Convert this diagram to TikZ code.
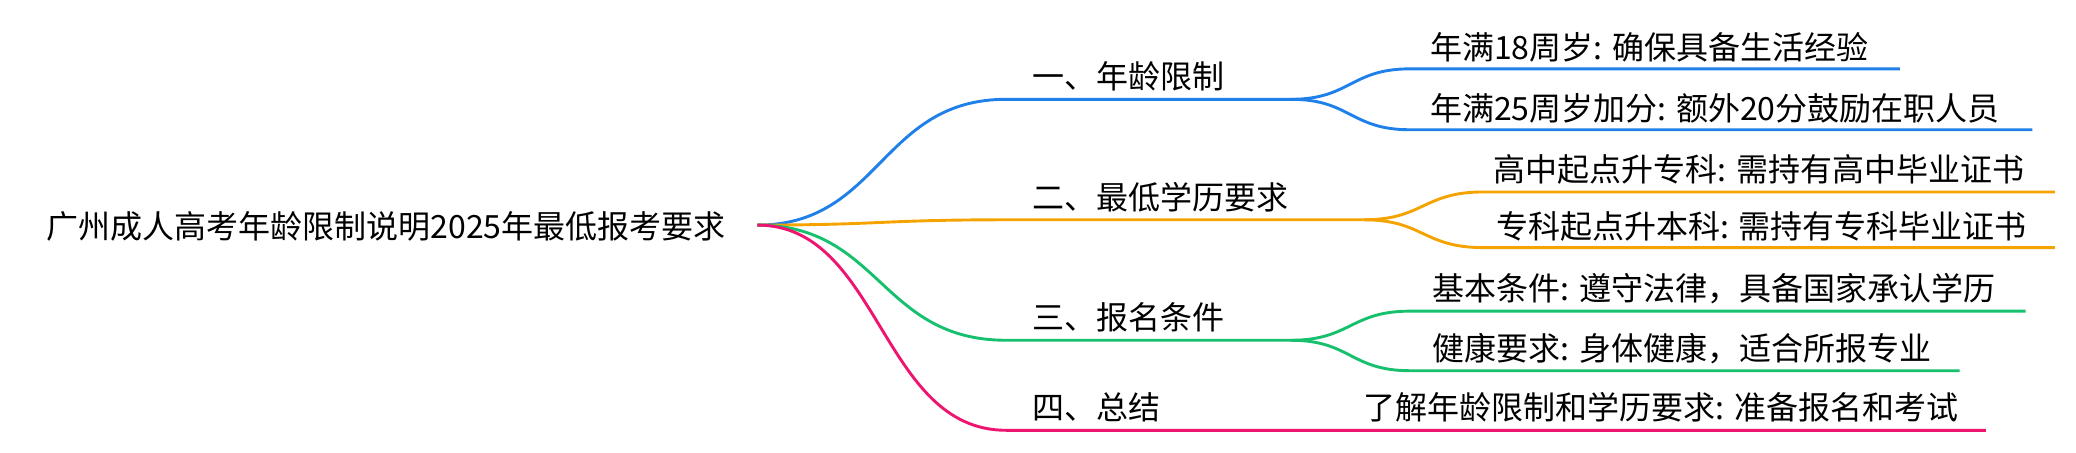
\documentclass[tikz,border=0pt]{standalone}
\usepackage{fontspec}
\setmainfont{Noto Sans CJK SC}
\definecolor{cb}{HTML}{1E80E8}
\definecolor{co}{HTML}{F5A300}
\definecolor{cg}{HTML}{16C06C}
\definecolor{cp}{HTML}{EE1470}
\begin{document}
\begin{tikzpicture}[x=1.324pt,y=-1.324pt,
  lbl/.style={anchor=base west,inner sep=0pt,font=\fontsize{32}{34}\selectfont},
  edge/.style={line width=2.9pt}]
\useasboundingbox (0,0) rectangle (1568,341.4);
\node[lbl] (root) at (35,180) {广州成人高考年龄限制说明2025年最低报考要求};
\coordinate (r) at (572,170);
% branch 1
\coordinate (b1) at (760,75); \coordinate (b1e) at (975,75);
\node[lbl] (t1) at (780,67) {一、年龄限制};
\draw[edge,cb] (r) .. controls (665,170) and (665,75) .. (b1) -- (b1e);
\coordinate (s11) at (1065,52); \coordinate (s11e) at (1435,52);
\coordinate (s12) at (1065,98); \coordinate (s12e) at (1535,98);
\draw[edge,cb] (b1e) .. controls (1020,75) and (1020,52) .. (s11) -- (s11e);
\draw[edge,cb] (b1e) .. controls (1020,75) and (1020,98) .. (s12) -- (s12e);
\node[lbl] (t11) at (1080,45) {年满18周岁: 确保具备生活经验};
\node[lbl] (t12) at (1080,91) {年满25周岁加分: 额外20分鼓励在职人员};
% branch 2
\coordinate (b2) at (760,166); \coordinate (b2e) at (1030,166);
\node[lbl] (t2) at (780,158) {二、最低学历要求};
\draw[edge,co] (r) .. controls (665,170) and (665,166) .. (b2) -- (b2e);
\coordinate (s21) at (1120,145); \coordinate (s21e) at (1552,145);
\coordinate (s22) at (1120,187); \coordinate (s22e) at (1552,187);
\draw[edge,co] (b2e) .. controls (1075,166) and (1075,145) .. (s21) -- (s21e);
\draw[edge,co] (b2e) .. controls (1075,166) and (1075,187) .. (s22) -- (s22e);
\node[lbl] (t21) at (1128,137) {高中起点升专科: 需持有高中毕业证书};
\node[lbl] (t22) at (1130,180) {专科起点升本科: 需持有专科毕业证书};
% branch 3
\coordinate (b3) at (760,257); \coordinate (b3e) at (975,257);
\node[lbl] (t3) at (780,249) {三、报名条件};
\draw[edge,cg] (r) .. controls (665,170) and (665,257) .. (b3) -- (b3e);
\coordinate (s31) at (1065,235); \coordinate (s31e) at (1530,235);
\coordinate (s32) at (1065,280); \coordinate (s32e) at (1480,280);
\draw[edge,cg] (b3e) .. controls (1020,257) and (1020,235) .. (s31) -- (s31e);
\draw[edge,cg] (b3e) .. controls (1020,257) and (1020,280) .. (s32) -- (s32e);
\node[lbl] (t31) at (1082,227) {基本条件: 遵守法律，具备国家承认学历};
\node[lbl] (t32) at (1082,272) {健康要求: 身体健康，适合所报专业};
% branch 4
\coordinate (b4) at (760,325); \coordinate (b4e) at (1500,325);
\node[lbl] (t4) at (780,317) {四、总结};
\draw[edge,cp] (r) .. controls (665,170) and (665,325) .. (b4) -- (b4e);
\node[lbl] (t41) at (1030,317) {了解年龄限制和学历要求: 准备报名和考试};
\end{tikzpicture}
\end{document}
